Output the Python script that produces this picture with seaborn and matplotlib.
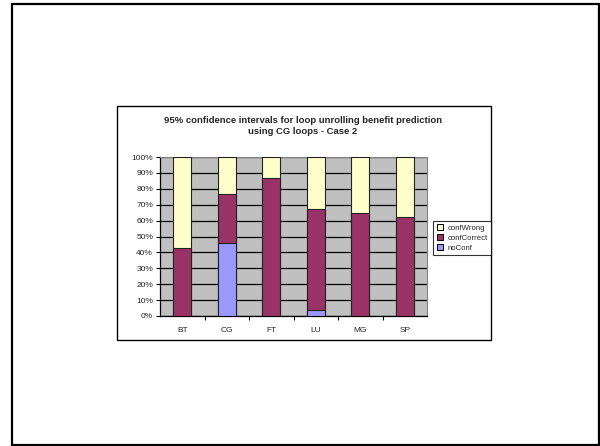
import matplotlib
matplotlib.use("Agg")
import matplotlib.pyplot as plt
from matplotlib.patches import Rectangle
from matplotlib.lines import Line2D
import numpy as np
import pandas as pd
import seaborn as sns

benchmarks = ["BT", "CG", "FT", "LU", "MG", "SP"]
no_conf = [0, 46, 0, 3.5, 0, 0]
conf_correct = [43, 31, 87, 63.5, 65, 62.5]
conf_wrong = [57, 23, 13, 33, 35, 37.5]
y_ticks = [0, 10, 20, 30, 40, 50, 60, 70, 80, 90, 100]
title = "95% confidence intervals for loop unrolling benefit prediction\nusing CG loops - Case 2"

col_wrong = "#FFFFCC"
col_correct = "#993366"
col_noconf = "#9999FF"

sns.set_style("white")
plt.rcParams["font.family"] = ["Liberation Sans", "DejaVu Sans"]

df = pd.DataFrame({
    "bench": benchmarks,
    "noConf": no_conf,
    "confCorrect": conf_correct,
    "confWrong": conf_wrong,
})
df["lvl1"] = df["noConf"]
df["lvl2"] = df["noConf"] + df["confCorrect"]
df["lvl3"] = df["lvl2"] + df["confWrong"]

fig = plt.figure(figsize=(6.0, 4.46), dpi=100)

# outer page frame and chart box
fig.patches.append(Rectangle((12 / 600, 1 / 446), 587 / 600, 441 / 446,
                             transform=fig.transFigure, fill=False,
                             edgecolor="black", linewidth=1.6))
fig.patches.append(Rectangle((117 / 600, 1 - 340 / 446), 374 / 600, 234 / 446,
                             transform=fig.transFigure, fill=False,
                             edgecolor="black", linewidth=1.0))

ax = fig.add_axes([160 / 600, 1 - 316 / 446, 267 / 600, 159 / 446])
ax.set_facecolor("#C0C0C0")

bar_w = 0.41
for col, color in [("lvl3", col_wrong), ("lvl2", col_correct), ("lvl1", col_noconf)]:
    sns.barplot(data=df, x="bench", y=col, color=color, width=bar_w,
                edgecolor="#222222", linewidth=0.8, saturation=1, ax=ax,
                zorder=3)

ax.set_xlim(-0.5, len(benchmarks) - 0.5)
ax.set_ylim(0, 100)
ax.set_yticks(y_ticks)
ax.set_yticklabels([f"{t}%" for t in y_ticks])
ax.yaxis.grid(True, color="black", linewidth=0.9)
ax.set_axisbelow(True)
ax.set_xlabel("")
ax.set_ylabel("")

ax.set_xticks(range(len(benchmarks)))
ax.set_xticklabels(benchmarks)
ax.set_xticks(np.arange(0.5, len(benchmarks) - 0.5, 1), minor=True)
ax.tick_params(axis="x", which="major", length=0, pad=8, labelsize=6)
ax.tick_params(axis="x", which="minor", length=3, width=0.8, color="black",
               direction="out", bottom=True)
ax.tick_params(axis="y", length=3, width=0.8, color="black", direction="out",
               left=True, labelsize=6, pad=2)

for side in ["top", "right"]:
    ax.spines[side].set_color("#808080")
    ax.spines[side].set_linewidth(0.8)
for side in ["left", "bottom"]:
    ax.spines[side].set_color("black")
    ax.spines[side].set_linewidth(0.9)

fig.text(303 / 600, 1 - 126 / 446, title, ha="center", va="center",
         fontsize=6.8, fontweight="bold", linespacing=1.25)

handles = [
    Line2D([], [], marker="s", linestyle="none", markersize=4.5,
           markerfacecolor=c, markeredgecolor="black", markeredgewidth=0.7)
    for c in (col_wrong, col_correct, col_noconf)
]
leg = fig.legend(handles, ["confWrong", "confCorrect", "noConf"],
                 loc="center", bbox_to_anchor=(462 / 600, 1 - 238 / 446),
                 fontsize=5.6, frameon=True, fancybox=False,
                 edgecolor="black", handlelength=0.8, handletextpad=0.6,
                 borderpad=0.4, labelspacing=0.35, borderaxespad=0)
leg.get_frame().set_linewidth(0.8)

fig.savefig("out.png", dpi=100)
